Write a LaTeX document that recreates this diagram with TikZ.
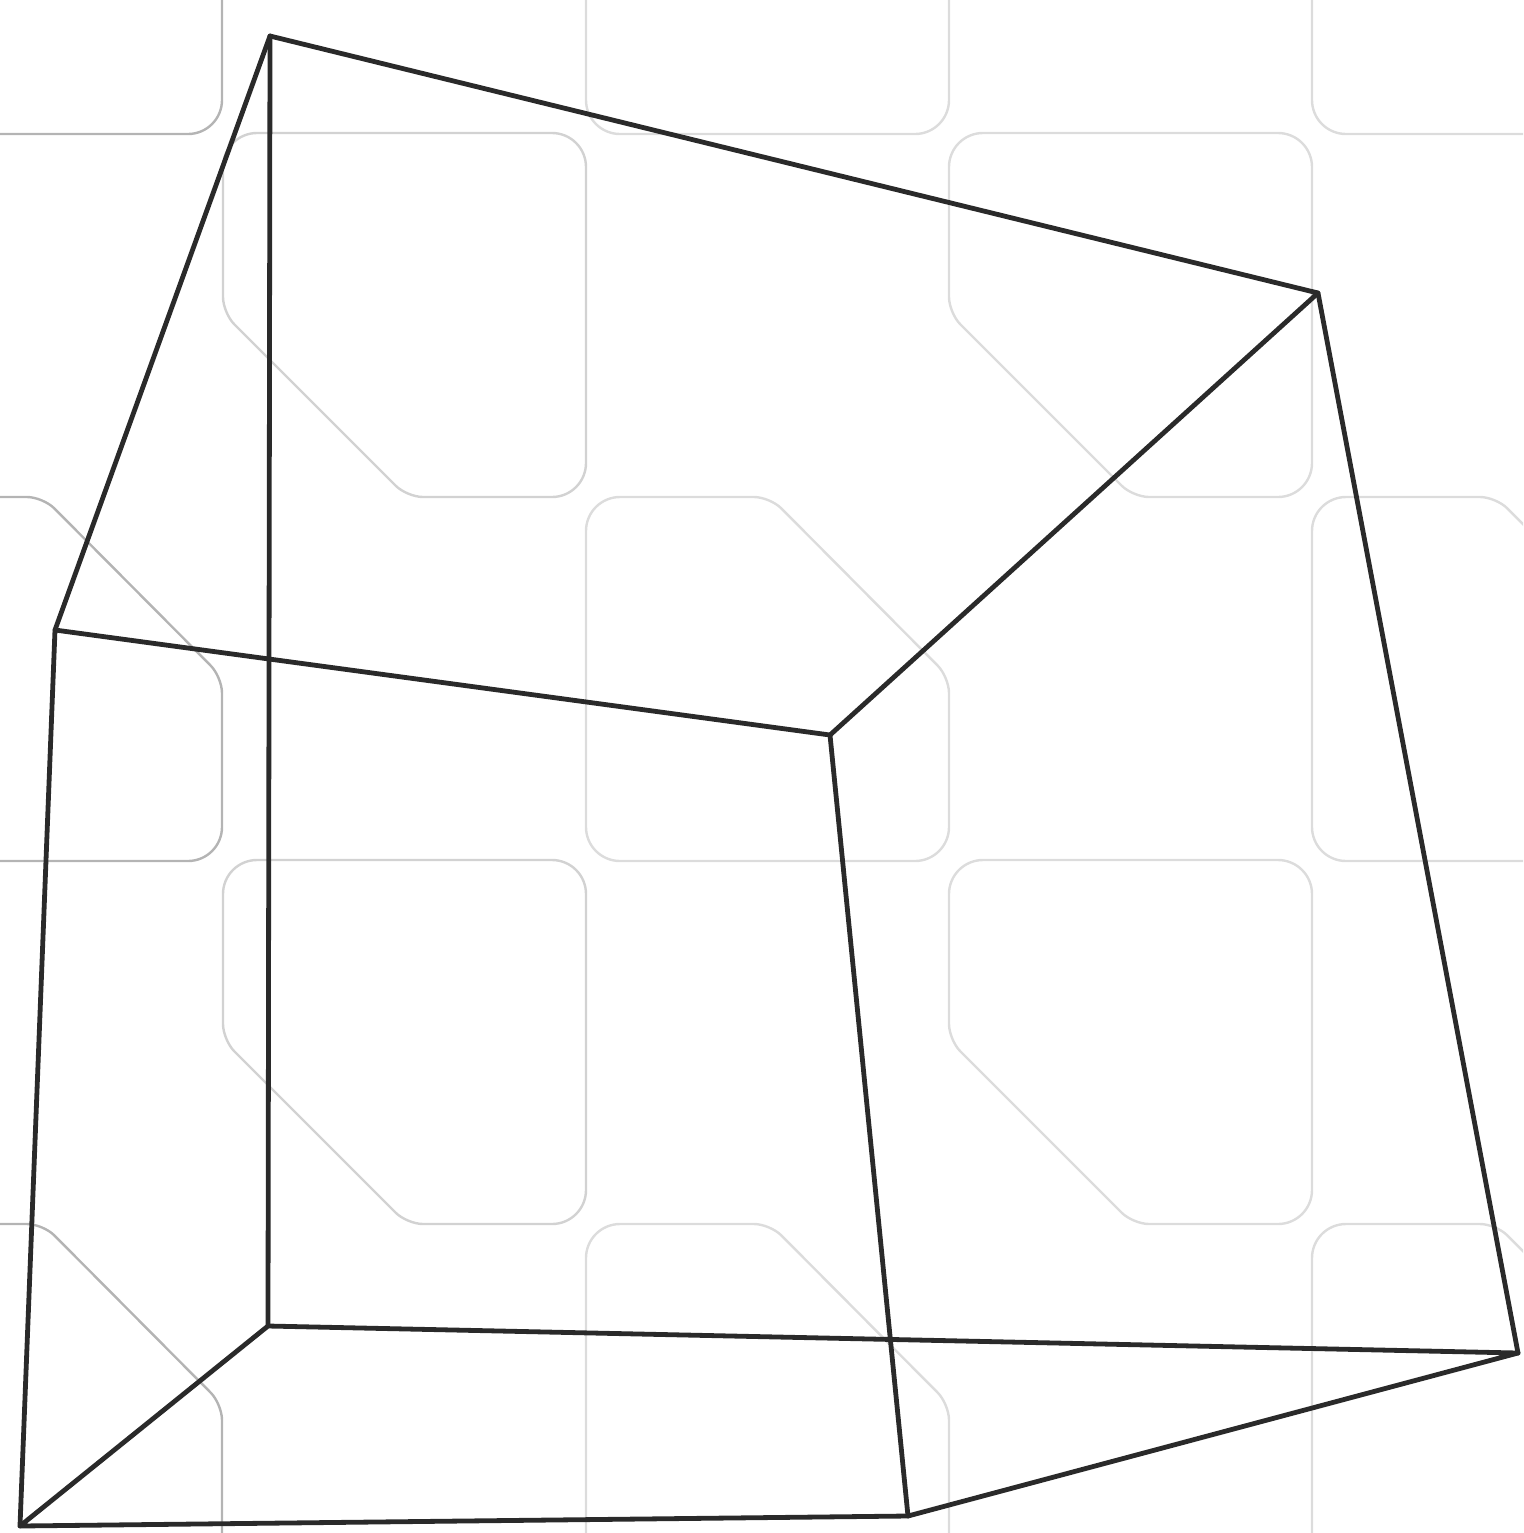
\documentclass[tikz,border=0pt]{standalone}
\definecolor{tilegrey}{HTML}{DCDCDC}
\definecolor{tilemid}{HTML}{D2D2D2}
\definecolor{tiledark}{HTML}{B4B4B4}
\definecolor{edgeblack}{HTML}{2A2A2A}
\tikzset{
  x=0.5pt,y=-0.5pt,
  tileline/.style={draw=#1,line width=1.2pt},
  edgeline/.style={draw=edgeblack,line width=2.4pt,line join=round,line cap=round},
}
% #1 left, #2 top, #3 colour
\newcommand{\tileA}[3]{%
  \path[tileline=#3] (#1+180,#2)
    [rounded corners=17pt] -- (#1+363,#2) -- (#1+363,#2+364) -- (#1+280,#2+364)
    [rounded corners=8pt] -- (#1+184,#2+364) -- (#1,#2+180) -- (#1,#2+100)
    [rounded corners=17pt] -- (#1,#2) -- (#1+180,#2);}
\newcommand{\tileB}[3]{%
  \path[tileline=#3] (#1,#2+180)
    [rounded corners=17pt] -- (#1,#2) -- (#1+120,#2)
    [rounded corners=8pt] -- (#1+184,#2) -- (#1+363,#2+180) -- (#1+363,#2+280)
    [rounded corners=17pt] -- (#1+363,#2+364) -- (#1,#2+364) -- (#1,#2+180);}
\begin{document}
\begin{tikzpicture}
\useasboundingbox (0,0) rectangle (1523,1533);
\begin{scope}
\clip (0,0) rectangle (1523,1533);
\tileA{223}{133}{tilemid}
\tileA{949}{133}{tilegrey}
\tileA{223}{860}{tilemid}
\tileA{949}{860}{tilegrey}
\tileB{-141}{-230}{tiledark}
\tileB{586}{-230}{tilegrey}
\tileB{1312}{-230}{tilegrey}
\tileB{-141}{497}{tiledark}
\tileB{586}{497}{tilegrey}
\tileB{1312}{497}{tilegrey}
\tileB{-141}{1224}{tiledark}
\tileB{586}{1224}{tilegrey}
\tileB{1312}{1224}{tilegrey}
\end{scope}
\coordinate (tbl) at (270,36);
\coordinate (tbr) at (1318,293);
\coordinate (tfl) at (55,630);
\coordinate (tfr) at (830,735);
\coordinate (bbl) at (268,1326);
\coordinate (bbr) at (1518,1353);
\coordinate (bfl) at (20,1526);
\coordinate (bfr) at (908,1516);
\draw[edgeline] (tbl) -- (tbr) -- (tfr) -- (tfl) -- cycle;
\draw[edgeline] (bbl) -- (bbr) -- (bfr) -- (bfl) -- cycle;
\draw[edgeline] (tbl) -- (bbl);
\draw[edgeline] (tbr) -- (bbr);
\draw[edgeline] (tfl) -- (bfl);
\draw[edgeline] (tfr) -- (bfr);
\end{tikzpicture}
\end{document}
